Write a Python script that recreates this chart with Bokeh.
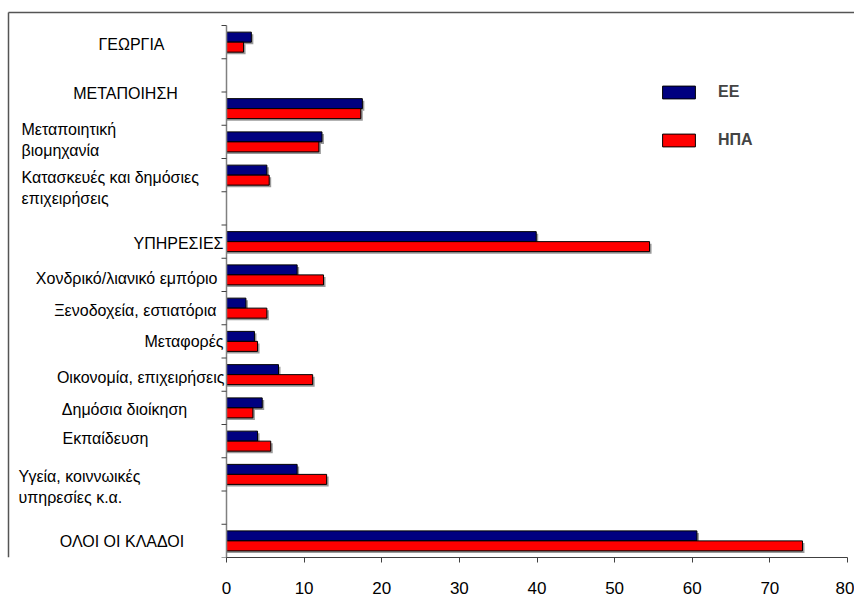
import numpy as np
from bokeh.plotting import figure
from bokeh.models import Range1d, FixedTicker, Legend, LegendItem, ColumnDataSource
from bokeh.core.properties import value
from bokeh.embed import file_html
from bokeh.resources import INLINE

# ---------------- data ----------------
categories = [
    "ΓΕΩΡΓΙΑ",
    "",
    "ΜΕΤΑΠΟΙΗΣΗ",
    "Μεταποιητική\nβιομηχανία",
    "Κατασκευές και δημόσιες\nεπιχειρήσεις",
    "",
    "ΥΠΗΡΕΣΙΕΣ",
    "Χονδρικό/λιανικό εμπόριο",
    "Ξενοδοχεία, εστιατόρια",
    "Μεταφορές",
    "Οικονομία, επιχειρήσεις",
    "Δημόσια διοίκηση",
    "Εκπαίδευση",
    "Υγεία, κοιννωικές\nυπηρεσίες κ.α.",
    "",
    "ΟΛΟΙ ΟΙ ΚΛΑΔΟΙ",
]
ee_values = [3.2, None, 17.5, 12.3, 5.2, None, 39.9, 9.1, 2.5, 3.6, 6.7, 4.6, 4.0, 9.1, None, 60.6]
usa_values = [2.2, None, 17.3, 11.9, 5.5, None, 54.5, 12.5, 5.2, 4.0, 11.1, 3.4, 5.7, 12.9, None, 74.2]
series_names = ["ΕΕ", "ΗΠΑ"]
x_ticks = [0, 10, 20, 30, 40, 50, 60, 70, 80]

# ---------------- layout constants (canvas px) ----------------
W, H_FRAME = 854, 557
BORDER_X, BORDER_Y = 8, 12     # chart-area border
PLOT_TOP = 25                  # top of first category slot
PLOT_BOTTOM = 557              # value axis position
X0_PX = 226                    # canvas x of value 0
PX_PER_UNIT = 7.7625           # px per value unit
n = len(categories)
SLOT = (PLOT_BOTTOM - PLOT_TOP) / n

x_start = -X0_PX / PX_PER_UNIT
x_end = (W - X0_PX) / PX_PER_UNIT
y_top = -PLOT_TOP / SLOT

def px_x(px):
    return (px - X0_PX) / PX_PER_UNIT

def px_y(py):
    return (py - PLOT_TOP) / SLOT

# label placement: (canvas x anchor, align, vertical offset px)
label_layout = [
    (131, "center", 2.5), None, (125, "center", -15), (21, "left", -2),
    (21, "left", 12.5), None, (223, "right", 1.5), (217, "right", 4),
    (216, "right", 2.5), (223, "right", 0), (224, "right", 2.5),
    (124, "center", 2), (105, "center", -3), (18, "left", 12.5), None,
    (121.5, "center", 0.5),
]

p = figure(
    frame_width=W, frame_height=H_FRAME,
    x_range=Range1d(x_start, x_end), y_range=Range1d(n, y_top),
    output_backend="svg", toolbar_location=None,
    y_axis_location=None,
    min_border_left=0, min_border_right=0, min_border_top=0, min_border_bottom=0,
)
p.outline_line_color = None
p.xgrid.visible = False
p.ygrid.visible = False
p.background_fill_color = "white"
p.border_fill_color = "white"

# value axis
ax = p.xaxis[0]
ax.ticker = FixedTicker(ticks=x_ticks)
ax.bounds = (0, 80)
ax.axis_line_color = "#404040"
ax.axis_line_width = 1.2
ax.major_tick_line_color = "#404040"
ax.major_tick_out = 5
ax.major_tick_in = 0
ax.minor_tick_line_color = None
ax.major_label_standoff = 19
ax.major_label_text_font = "Liberation Sans"
ax.major_label_text_font_size = "17px"
ax.major_label_text_color = "black"

# bars
idx = [i for i, c in enumerate(categories) if ee_values[i] is not None]
yc = np.array([i + 0.5 for i in idx])
ee = np.array([ee_values[i] for i in idx])
us = np.array([usa_values[i] for i in idx])
bar_h = 10 / SLOT
dx_sh = 2 / PX_PER_UNIT
dy_sh = 2 / SLOT

src = ColumnDataSource(dict(y_ee=yc - bar_h / 2, y_us=yc + bar_h / 2, ee=ee, us=us,
                            y_ee_s=yc - bar_h / 2 + dy_sh, y_us_s=yc + bar_h / 2 + dy_sh,
                            ee_s=ee + dx_sh, us_s=us + dx_sh))
p.hbar(y="y_ee_s", left=0, right="ee_s", height=bar_h, source=src,
       fill_color="#9a9a9a", line_color=None)
p.hbar(y="y_us_s", left=0, right="us_s", height=bar_h, source=src,
       fill_color="#9a9a9a", line_color=None)
r_ee = p.hbar(y="y_ee", left=0, right="ee", height=bar_h, source=src,
              fill_color="#000080", line_color="black", line_width=1)
r_us = p.hbar(y="y_us", left=0, right="us", height=bar_h, source=src,
              fill_color="#ff0000", line_color="black", line_width=1)

# category axis (line + boundary ticks)
p.segment(x0=[0], y0=[0], x1=[0], y1=[n], line_color="#808080", line_width=1.5)
bounds = list(range(n + 1))
p.segment(x0=[px_x(X0_PX - 5)] * len(bounds), y0=bounds, x1=[0] * len(bounds), y1=bounds,
          line_color="#404040", line_width=1)

# chart border (left + top)
bx, by = px_x(BORDER_X), px_y(BORDER_Y)
p.segment(x0=[bx], y0=[by], x1=[bx], y1=[n], line_color="#555555", line_width=1.5)
p.segment(x0=[bx], y0=[by], x1=[x_end], y1=[by], line_color="#555555", line_width=1.5)

# category labels
for align in ("left", "center", "right"):
    xs, ys, ts = [], [], []
    for i, c in enumerate(categories):
        lay = label_layout[i]
        if not c or lay is None or lay[1] != align:
            continue
        xs.append(px_x(lay[0]))
        ys.append(i + 0.5 + lay[2] / SLOT)
        ts.append(c)
    if xs:
        p.text(x=xs, y=ys, text=ts, text_align=align, text_baseline="middle",
               text_font=value("Liberation Sans"), text_font_size="16px",
               text_color="black", text_line_height=1.25)

# legend
legend = Legend(
    items=[LegendItem(label=series_names[0], renderers=[r_ee]),
           LegendItem(label=series_names[1], renderers=[r_us])],
    location=(658, 407), orientation="vertical",
    glyph_width=41, glyph_height=16, label_height=20, spacing=28,
    padding=0, margin=0, border_line_alpha=0, background_fill_alpha=0,
    label_text_font="Liberation Sans", label_text_font_size="16px",
    label_text_font_style="bold", label_standoff=19,
)
p.add_layout(legend)

open("out.html", "w").write(file_html(p, INLINE))
